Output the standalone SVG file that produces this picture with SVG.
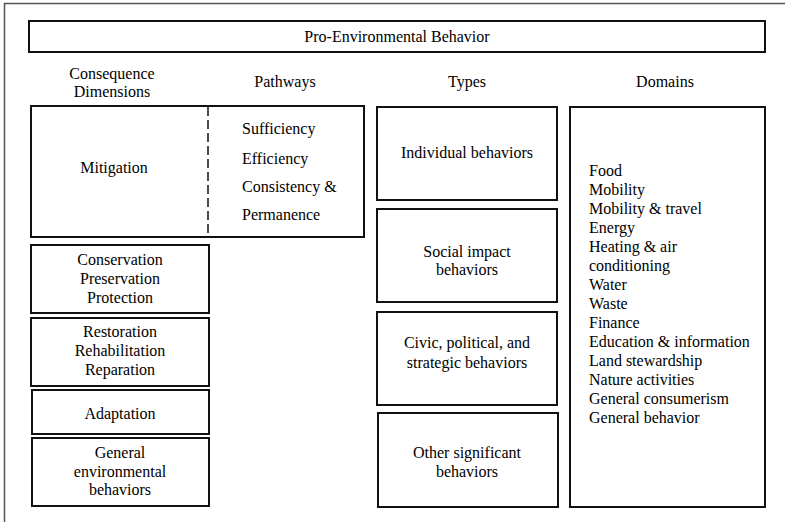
<svg xmlns="http://www.w3.org/2000/svg" width="785" height="522" viewBox="0 0 785 522">
<style>
.box{fill:#fff;stroke:#111;stroke-width:2}
.frame{fill:none;stroke:#555;stroke-width:1.5}
.dash{stroke:#111;stroke-width:1.5;stroke-dasharray:9 4;fill:none}
</style>
<rect width="785" height="522" fill="#fff"/>
<rect class="frame" x="4.5" y="3.5" width="820" height="560"/>
<g id="title">
<rect class="box" x="29" y="21" width="736" height="31"/>
<text font-family="Liberation Serif" font-size="16" text-anchor="middle" x="397" y="42">Pro-Environmental Behavior</text>
</g>
<g id="headers">
<text font-family="Liberation Serif" font-size="16" text-anchor="middle" x="112" y="79">Consequence</text>
<text font-family="Liberation Serif" font-size="16" text-anchor="middle" x="112" y="97">Dimensions</text>
<text font-family="Liberation Serif" font-size="16" text-anchor="middle" x="285" y="87">Pathways</text>
<text font-family="Liberation Serif" font-size="16" text-anchor="middle" x="467" y="87">Types</text>
<text font-family="Liberation Serif" font-size="16" text-anchor="middle" x="665" y="87">Domains</text>
</g>
<g id="mitigation">
<rect class="box" x="31" y="106" width="333" height="131"/>
<line class="dash" x1="208" y1="107" x2="208" y2="236"/>
<text font-family="Liberation Serif" font-size="16" text-anchor="middle" x="114" y="173">Mitigation</text>
<text font-family="Liberation Serif" font-size="16" x="242" y="134">Sufficiency</text>
<text font-family="Liberation Serif" font-size="16" x="242" y="164">Efficiency</text>
<text font-family="Liberation Serif" font-size="16" x="242" y="192">Consistency &amp;</text>
<text font-family="Liberation Serif" font-size="16" x="242" y="220">Permanence</text>
</g>
<g id="conservation">
<rect class="box" x="31" y="245" width="178" height="68"/>
<text font-family="Liberation Serif" font-size="16" text-anchor="middle" x="120" y="265">Conservation</text>
<text font-family="Liberation Serif" font-size="16" text-anchor="middle" x="120" y="284">Preservation</text>
<text font-family="Liberation Serif" font-size="16" text-anchor="middle" x="120" y="303">Protection</text>
</g>
<g id="restoration">
<rect class="box" x="31" y="318" width="178" height="68"/>
<text font-family="Liberation Serif" font-size="16" text-anchor="middle" x="120" y="337">Restoration</text>
<text font-family="Liberation Serif" font-size="16" text-anchor="middle" x="120" y="356">Rehabilitation</text>
<text font-family="Liberation Serif" font-size="16" text-anchor="middle" x="120" y="375">Reparation</text>
</g>
<g id="adaptation">
<rect class="box" x="32" y="390" width="177" height="44"/>
<text font-family="Liberation Serif" font-size="16" text-anchor="middle" x="120" y="419">Adaptation</text>
</g>
<g id="general-env">
<rect class="box" x="32" y="438" width="177" height="68"/>
<text font-family="Liberation Serif" font-size="16" text-anchor="middle" x="120" y="458">General</text>
<text font-family="Liberation Serif" font-size="16" text-anchor="middle" x="120" y="477">environmental</text>
<text font-family="Liberation Serif" font-size="16" text-anchor="middle" x="120" y="495">behaviors</text>
</g>
<g id="individual">
<rect class="box" x="377" y="107" width="180" height="93"/>
<text font-family="Liberation Serif" font-size="16" text-anchor="middle" x="467" y="158">Individual behaviors</text>
</g>
<g id="social">
<rect class="box" x="377" y="209" width="180" height="93"/>
<text font-family="Liberation Serif" font-size="16" text-anchor="middle" x="467" y="257">Social impact</text>
<text font-family="Liberation Serif" font-size="16" text-anchor="middle" x="467" y="275">behaviors</text>
</g>
<g id="civic">
<rect class="box" x="377" y="312" width="180" height="93"/>
<text font-family="Liberation Serif" font-size="16" text-anchor="middle" x="467" y="348">Civic, political, and</text>
<text font-family="Liberation Serif" font-size="16" text-anchor="middle" x="467" y="368">strategic behaviors</text>
</g>
<g id="other">
<rect class="box" x="378" y="413" width="180" height="94"/>
<text font-family="Liberation Serif" font-size="16" text-anchor="middle" x="467" y="458">Other significant</text>
<text font-family="Liberation Serif" font-size="16" text-anchor="middle" x="467" y="477">behaviors</text>
</g>
<g id="domains">
<rect class="box" x="570" y="107" width="195" height="400"/>
<text font-family="Liberation Serif" font-size="16" x="589" y="176">Food</text>
<text font-family="Liberation Serif" font-size="16" x="589" y="195">Mobility</text>
<text font-family="Liberation Serif" font-size="16" x="589" y="214">Mobility &amp; travel</text>
<text font-family="Liberation Serif" font-size="16" x="589" y="233">Energy</text>
<text font-family="Liberation Serif" font-size="16" x="589" y="252">Heating &amp; air</text>
<text font-family="Liberation Serif" font-size="16" x="589" y="271">conditioning</text>
<text font-family="Liberation Serif" font-size="16" x="589" y="290">Water</text>
<text font-family="Liberation Serif" font-size="16" x="589" y="309">Waste</text>
<text font-family="Liberation Serif" font-size="16" x="589" y="328">Finance</text>
<text font-family="Liberation Serif" font-size="16" x="589" y="347">Education &amp; information</text>
<text font-family="Liberation Serif" font-size="16" x="589" y="366">Land stewardship</text>
<text font-family="Liberation Serif" font-size="16" x="589" y="385">Nature activities</text>
<text font-family="Liberation Serif" font-size="16" x="589" y="404">General consumerism</text>
<text font-family="Liberation Serif" font-size="16" x="589" y="423">General behavior</text>
</g>
<g id="connectors"></g>
</svg>
